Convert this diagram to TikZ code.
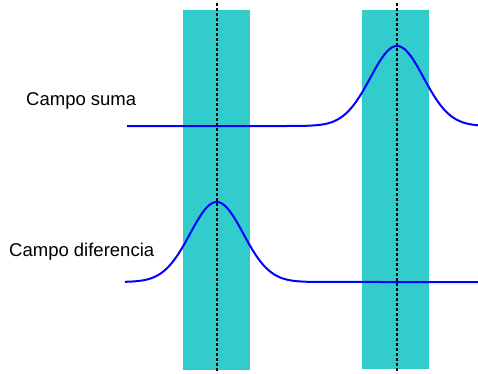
\documentclass[tikz,border=0pt]{standalone}
\usepackage{fontspec}
\setmainfont{Liberation Sans}
\usepackage{tikz}
\usetikzlibrary{positioning}
\definecolor{slitcyan}{RGB}{51,204,204}
\definecolor{fieldblue}{RGB}{0,0,255}

\begin{document}
\begin{tikzpicture}[x=1pt, y=-1pt,
    slitbar/.style={fill=slitcyan, draw=none},
    axisdash/.style={black, line width=1.6pt, dash pattern=on 3pt off 2pt},
    fieldcurve/.style={fieldblue, line width=2pt, line join=round},
    fieldlabel/.style={font=\fontsize{18.5}{22}\selectfont, anchor=base west, inner sep=0pt}]
  \useasboundingbox (0,0) rectangle (478,373);

  % centres of the two slits and width of the pulses
  \def\xa{216.7}
  \def\xb{397}
  \def\sig{26.5}
  \def\amp{80}

  % slits
  \fill[slitbar] (183.3,9.5) rectangle (250,370);
  \fill[slitbar] (362,10) rectangle (429.3,369);

  % slit axes
  \draw[axisdash] (\xa,3) -- (\xa,373);
  \draw[axisdash] (\xb,3) -- (\xb,373);

  % labels
  \node[fieldlabel] (suma) at (26,105) {Campo suma};
  \node[fieldlabel] (dif) at (9,256.5) {Campo diferencia};

  % sum field: pulse under the second slit
  \draw[fieldcurve] (127,126) -- (287,126)
    plot[domain=287:478, samples=120]
      (\x, {126-\amp*exp(-0.5*((\x-\xb)/\sig)^2)});

  % difference field: pulse under the first slit
  \draw[fieldcurve]
    plot[domain=125:326, samples=120]
      (\x, {282-\amp*exp(-0.5*((\x-\xa)/\sig)^2)})
    -- (478,282);
\end{tikzpicture}
\end{document}
